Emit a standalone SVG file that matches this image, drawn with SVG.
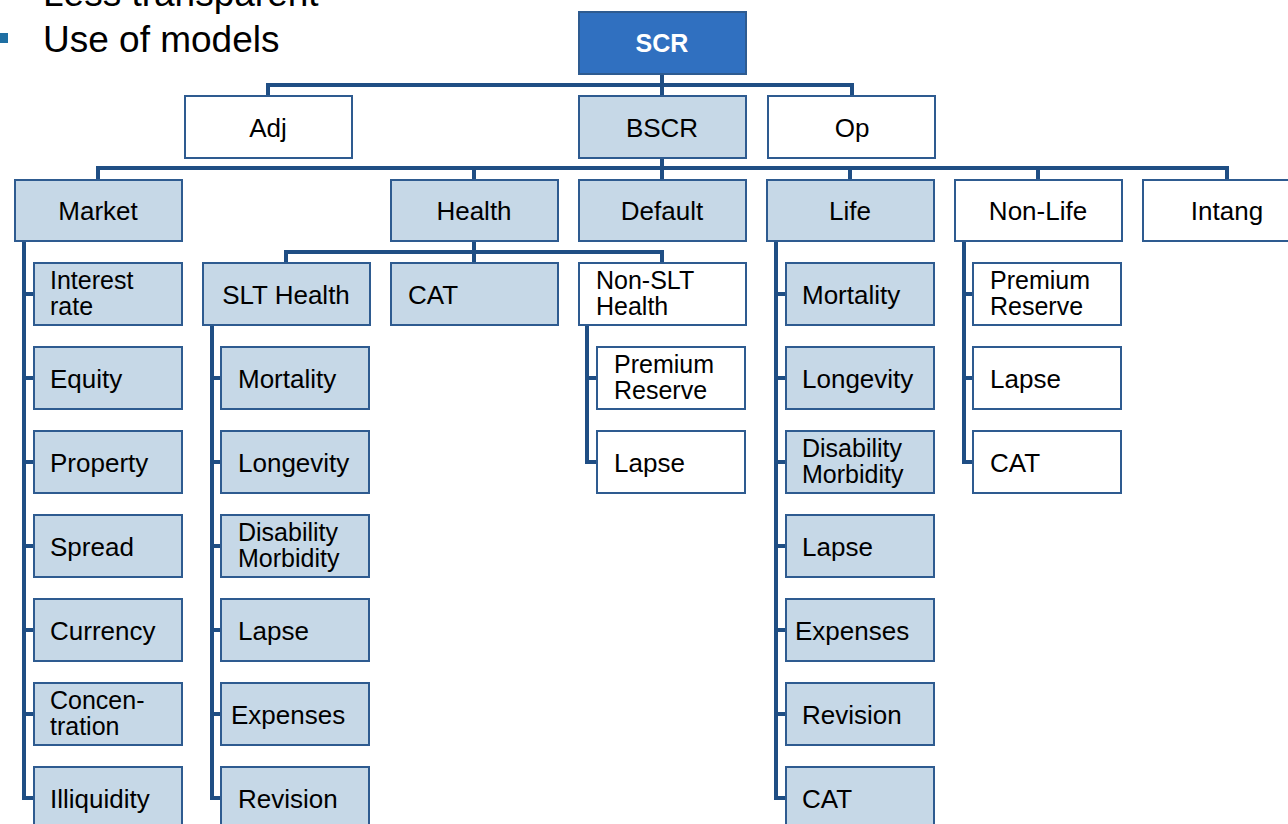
<svg xmlns="http://www.w3.org/2000/svg" width="1288" height="824" viewBox="0 0 1288 824">
  <style>
    .box { stroke: #2E5B90; stroke-width: 2; }
    .root { fill: #3070C0; }
    .lb { fill: #C6D8E7; }
    .wt { fill: #FFFFFF; }
    text { font-family: "Liberation Sans", Arial, sans-serif; font-size: 26px; fill: #000; }
    .c { text-anchor: middle; }
    .two { font-size: 25px; }
    .hd { fill: #FFFFFF; font-weight: bold; font-size: 25px; }
    .bul { font-size: 37px; }
    .wire { fill: none; stroke: #1F4E84; stroke-width: 4; stroke-linejoin: miter; }
  </style>

  <!-- slide bullet text -->
  <g id="bullets">
    <text class="bul" x="43" y="6">Less transparent</text>
    <rect x="0" y="33" width="8" height="10" fill="#1F6FA3"/>
    <text class="bul" x="43" y="52">Use of models</text>
  </g>

  <!-- connectors -->
  <g id="connectors" class="wire">
    <!-- SCR level -->
    <path d="M662 74 V85 M268 96 V85 H852 V96 M662 85 V96"/>
    <!-- BSCR level -->
    <path d="M662 158 V168 M98 180 V168 H1227 V180 M474 168 V180 M662 168 V180 M850 168 V180 M1038 168 V180"/>
    <!-- Health level -->
    <path d="M474 241 V252 M286 263 V252 H662 V263 M474 252 V263"/>
    <!-- Market sub-modules -->
    <path d="M24 241 V798 H34 M24 294 H34 M24 378 H34 M24 462 H34 M24 546 H34 M24 630 H34 M24 714 H34"/>
    <!-- SLT Health sub-modules -->
    <path d="M212 325 V798 H221 M212 378 H221 M212 462 H221 M212 546 H221 M212 630 H221 M212 714 H221"/>
    <!-- Non-SLT Health sub-modules -->
    <path d="M587 325 V462 H597 M587 378 H597"/>
    <!-- Life sub-modules -->
    <path d="M776 241 V798 H786 M776 294 H786 M776 378 H786 M776 462 H786 M776 546 H786 M776 630 H786 M776 714 H786"/>
    <!-- Non-Life sub-modules -->
    <path d="M964 241 V462 H973 M964 294 H973 M964 378 H973"/>
  </g>

  <!-- top level -->
  <g id="scr"><rect class="box root" x="579" y="12" width="167" height="62"/><text class="c hd" x="662" y="52">SCR</text></g>

  <!-- second level -->
  <g id="adj"><rect class="box wt" x="185" y="96" width="167" height="62"/><text class="c" x="268" y="137">Adj</text></g>
  <g id="bscr"><rect class="box lb" x="579" y="96" width="167" height="62"/><text class="c" x="662" y="137">BSCR</text></g>
  <g id="op"><rect class="box wt" x="768" y="96" width="167" height="62"/><text class="c" x="852" y="137">Op</text></g>

  <!-- risk modules -->
  <g id="market"><rect class="box lb" x="15" y="180" width="167" height="61"/><text class="c" x="98" y="220">Market</text></g>
  <g id="health"><rect class="box lb" x="391" y="180" width="167" height="61"/><text class="c" x="474" y="220">Health</text></g>
  <g id="default"><rect class="box lb" x="579" y="180" width="167" height="61"/><text class="c" x="662" y="220">Default</text></g>
  <g id="life"><rect class="box lb" x="767" y="180" width="167" height="61"/><text class="c" x="850" y="220">Life</text></g>
  <g id="nonlife"><rect class="box wt" x="955" y="180" width="167" height="61"/><text class="c" x="1038" y="220">Non-Life</text></g>
  <g id="intang"><rect class="box wt" x="1143" y="180" width="168" height="61"/><text class="c" x="1227" y="220">Intang</text></g>

  <!-- market sub-modules -->
  <g id="mkt-interest"><rect class="box lb" x="34" y="263" width="148" height="62"/><text class="two" x="50" y="289">Interest</text><text class="two" x="50" y="315">rate</text></g>
  <g id="mkt-equity"><rect class="box lb" x="34" y="347" width="148" height="62"/><text x="50" y="388">Equity</text></g>
  <g id="mkt-property"><rect class="box lb" x="34" y="431" width="148" height="62"/><text x="50" y="472">Property</text></g>
  <g id="mkt-spread"><rect class="box lb" x="34" y="515" width="148" height="62"/><text x="50" y="556">Spread</text></g>
  <g id="mkt-currency"><rect class="box lb" x="34" y="599" width="148" height="62"/><text x="50" y="640">Currency</text></g>
  <g id="mkt-concentration"><rect class="box lb" x="34" y="683" width="148" height="62"/><text class="two" x="50" y="709">Concen-</text><text class="two" x="50" y="735">tration</text></g>
  <g id="mkt-illiquidity"><rect class="box lb" x="34" y="767" width="148" height="62"/><text x="50" y="808">Illiquidity</text></g>

  <!-- health sub-modules -->
  <g id="slt-health"><rect class="box lb" x="203" y="263" width="167" height="62"/><text class="c" x="286" y="304">SLT Health</text></g>
  <g id="health-cat"><rect class="box lb" x="391" y="263" width="167" height="62"/><text x="408" y="304">CAT</text></g>
  <g id="nonslt-health"><rect class="box wt" x="579" y="263" width="167" height="62"/><text class="two" x="596" y="289">Non-SLT</text><text class="two" x="596" y="315">Health</text></g>

  <g id="slt-mortality"><rect class="box lb" x="221" y="347" width="148" height="62"/><text x="238" y="388">Mortality</text></g>
  <g id="slt-longevity"><rect class="box lb" x="221" y="431" width="148" height="62"/><text x="238" y="472">Longevity</text></g>
  <g id="slt-disability"><rect class="box lb" x="221" y="515" width="148" height="62"/><text class="two" x="238" y="541">Disability</text><text class="two" x="238" y="567">Morbidity</text></g>
  <g id="slt-lapse"><rect class="box lb" x="221" y="599" width="148" height="62"/><text x="238" y="640">Lapse</text></g>
  <g id="slt-expenses"><rect class="box lb" x="221" y="683" width="148" height="62"/><text x="231" y="724">Expenses</text></g>
  <g id="slt-revision"><rect class="box lb" x="221" y="767" width="148" height="62"/><text x="238" y="808">Revision</text></g>

  <g id="nslt-premium"><rect class="box wt" x="597" y="347" width="148" height="62"/><text class="two" x="614" y="373">Premium</text><text class="two" x="614" y="399">Reserve</text></g>
  <g id="nslt-lapse"><rect class="box wt" x="597" y="431" width="148" height="62"/><text x="614" y="472">Lapse</text></g>

  <!-- life sub-modules -->
  <g id="life-mortality"><rect class="box lb" x="786" y="263" width="148" height="62"/><text x="802" y="304">Mortality</text></g>
  <g id="life-longevity"><rect class="box lb" x="786" y="347" width="148" height="62"/><text x="802" y="388">Longevity</text></g>
  <g id="life-disability"><rect class="box lb" x="786" y="431" width="148" height="62"/><text class="two" x="802" y="457">Disability</text><text class="two" x="802" y="483">Morbidity</text></g>
  <g id="life-lapse"><rect class="box lb" x="786" y="515" width="148" height="62"/><text x="802" y="556">Lapse</text></g>
  <g id="life-expenses"><rect class="box lb" x="786" y="599" width="148" height="62"/><text x="795" y="640">Expenses</text></g>
  <g id="life-revision"><rect class="box lb" x="786" y="683" width="148" height="62"/><text x="802" y="724">Revision</text></g>
  <g id="life-cat"><rect class="box lb" x="786" y="767" width="148" height="62"/><text x="802" y="808">CAT</text></g>

  <!-- non-life sub-modules -->
  <g id="nl-premium"><rect class="box wt" x="973" y="263" width="148" height="62"/><text class="two" x="990" y="289">Premium</text><text class="two" x="990" y="315">Reserve</text></g>
  <g id="nl-lapse"><rect class="box wt" x="973" y="347" width="148" height="62"/><text x="990" y="388">Lapse</text></g>
  <g id="nl-cat"><rect class="box wt" x="973" y="431" width="148" height="62"/><text x="990" y="472">CAT</text></g>
</svg>
